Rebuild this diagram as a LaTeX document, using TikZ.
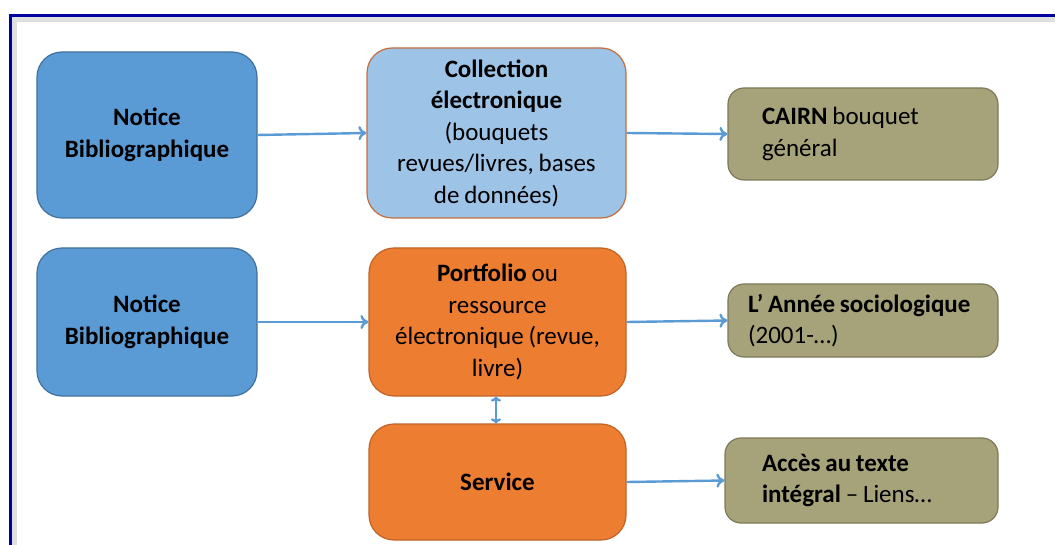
\documentclass[tikz,border=0pt]{standalone}
\usepackage{fontspec}
\setmainfont{Carlito}[WordSpace=0.85]
\usetikzlibrary{arrows.meta}
\definecolor{bluefill}{RGB}{91,155,213}
\definecolor{blueedge}{RGB}{65,113,156}
\definecolor{lbluefill}{RGB}{157,195,230}
\definecolor{lblueedge}{RGB}{197,110,60}
\definecolor{orfill}{RGB}{237,125,49}
\definecolor{oredge}{RGB}{190,100,40}
\definecolor{olfill}{RGB}{166,162,122}
\definecolor{oledge}{RGB}{125,122,90}
\definecolor{arrowc}{RGB}{91,155,213}
\definecolor{framec}{RGB}{0,0,160}
\tikzset{
  basebox/.style={rounded corners=25pt, line width=1.2pt, font=\fontsize{25}{31.5}\selectfont, align=center, inner sep=0pt},
  bluebox/.style={basebox, fill=bluefill, draw=blueedge},
  lbluebox/.style={basebox, fill=lbluefill, draw=lblueedge},
  orbox/.style={basebox, fill=orfill, draw=oredge},
  olbox/.style={basebox, rounded corners=16pt, fill=olfill, draw=oledge, align=flush left},
  conn/.style={draw=arrowc, line width=2.4pt, -{To[length=8pt,width=14pt,line width=2.4pt]}},
  dconn/.style={draw=arrowc, line width=2.4pt, {To[length=5pt,width=10pt]}-{To[length=5pt,width=10pt]}}
}
\begin{document}
\begin{tikzpicture}[x=1pt,y=-1pt]
\useasboundingbox (0,0) rectangle (1055,545);
\fill[white] (0,0) rectangle (1055,545);
% frame
\fill[gray!25] (12,17) rectangle (1055,22);
\fill[gray!25] (12,17) rectangle (17,545);
\draw[framec, line width=3pt] (10.5,545) -- (10.5,15.5) -- (1055,15.5);
% nodes
\node[bluebox, minimum width=220pt, minimum height=166pt] (n1) at (147,135) {\textbf{Notice}\\\textbf{Bibliographique}};
\node[lbluebox, minimum width=259pt, minimum height=170pt] (c) at (496.5,133) {\textbf{Collection}\\\textbf{électronique}\\(bouquets\\revues/livres, bases\\de données)};
\node[olbox, minimum width=270pt, minimum height=92pt, text width=202pt] (cairn) at (863,134) {\textbf{CAIRN} bouquet\\général};
\node[bluebox, minimum width=220pt, minimum height=148pt] (n2) at (147,322) {\textbf{Notice}\\\textbf{Bibliographique}};
\node[orbox, minimum width=257pt, minimum height=148pt] (p) at (497.5,322) {\textbf{Portfolio} ou\\ressource\\électronique (revue,\\livre)};
\node[olbox, minimum width=270pt, minimum height=73pt, text width=230pt] (l) at (863,320.5) {\textbf{L’ Année sociologique}\\(2001-…)};
\node[orbox, minimum width=257pt, minimum height=116pt] (s) at (497.5,482) {\textbf{Service}};
\node[olbox, minimum width=273pt, minimum height=85pt, text width=199pt] (a) at (861.5,480.5) {\textbf{Accès au texte}\\\textbf{intégral} – Liens…};
% connectors
\draw[conn] (n1.east) -- (c.west);
\draw[conn] (c.east) -- (cairn.west);
\draw[conn] (n2.east) -- (p.west);
\draw[conn] (p.east) -- (l.west);
\draw[conn] (s.east) -- (a.west);
\draw[dconn] ([xshift=-1.5pt]p.south) -- ([xshift=-1.5pt]s.north);
\end{tikzpicture}
\end{document}
